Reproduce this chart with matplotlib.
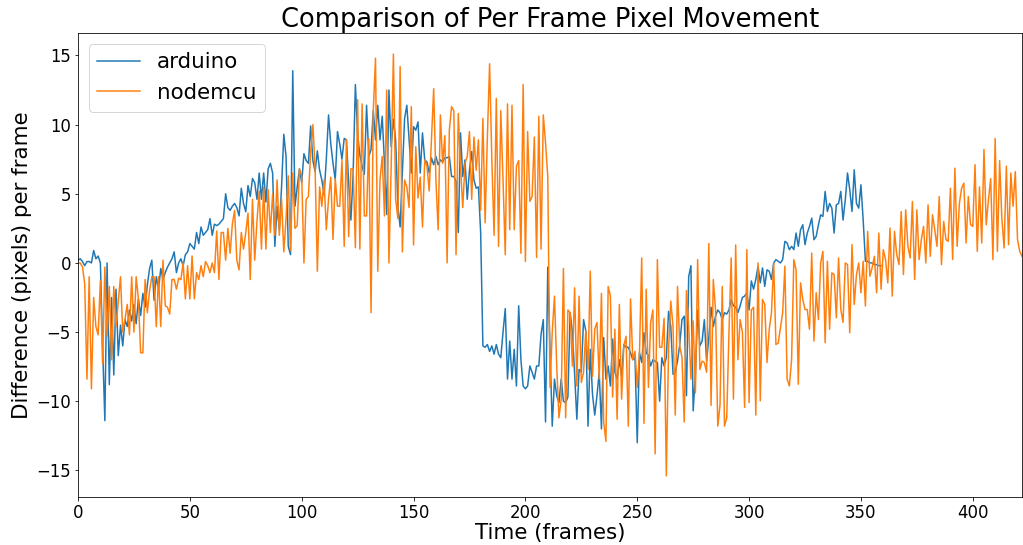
import matplotlib
matplotlib.use("Agg")
import matplotlib.pyplot as plt

# Per-frame pixel displacement for each board
arduino = [
    0.2, 0.3, 0.1, -0.2, 0.1, 0.1, 0.0, 0.9, 0.3, 0.5,
    0.0, -6.0, -11.4, 0.0, -8.8, -2.5, -8.1, -1.9, -6.7, -4.5,
    -6.0, -4.1, -4.6, -3.4, -4.2, -3.0, -4.4, -2.6, -3.8, -2.2,
    -3.2, -1.6, -0.4, 0.2, -2.7,
    -1.0, -1.9, -0.4, -1.2, -0.7, -0.3, 0.0, 0.3, 0.8, -0.7,
    0.0, 0.3, -0.2, 0.6, 0.8, 1.4, 1.2, 1.0, 2.2, 1.4,
    2.6, 2.0, 2.2, 2.4, 3.2, 2.0, 2.8, 2.7, 2.8, 3.0,
    3.2, 5.0, 4.0, 3.8, 4.1, 4.3, 4.0,
    3.4, 5.4, 4.3, 3.7, 5.6, 4.8, 6.1, 5.8, 4.6, 6.5,
    4.6, 6.5, 4.4, 6.8, 7.2, 6.5, 1.2, 4.1, 2.4, 5.5,
    9.3, 7.7, 1.2, 0.6, 13.9, 4.1, 5.5, 6.8, 5.8, 7.9,
    7.4, 7.2, 9.9, 7.4, 6.6, 8.1,
    6.7, 6.0, 4.9, 7.5, 10.7, 8.6, 7.2, 6.0, 9.5, 8.6,
    7.5, 9.0, 8.9, 5.8, 3.1, 6.5, 12.9, 9.3, 7.8, 7.0,
    6.4, 11.4, 7.7, 8.2, 11.0, 8.9, 11.4, 8.9, 10.6, 7.2,
    3.5, 12.5, 8.4, 10.4, 8.9,
    4.1, 2.6, 6.5, 10.45, 11.4, 9.0, 6.5, 9.85, 9.6, 10.2,
    6.5, 9.4, 7.45, 7.3, 6.5, 7.6, 7.1, 7.7, 7.1, 7.45,
    7.3, 7.6, 7.6, 7.7, 6.25, 6.25, 5.9, 2.2, 9.4, 6.25,
    7.45, 4.6, 6.7, 8.05, 6.0, 5.4, 5.5,
    2.2, -6.0, -6.1, -5.9, -6.4, -6.0, -6.6, -5.9, -6.6, -6.85,
    -5.0, -3.3, -8.4, -5.65, -8.4, -6.25, -8.9, -3.1, -7.0, -8.9,
    -9.1, -8.9, -7.45, -7.9, -8.4, -7.45, -7.45, -5.17, -4.1, -11.5,
    -0.3, -6.25, -11.8, -8.4,
    -9.6, -10.1, -8.4, -10.0, -10.1, -9.7, -3.6, -5.0, -8.0, -11.3,
    -7.7, -7.9, -4.1, -4.9, -11.8, -6.25, -9.5, -11.0, -9.6, -7.9,
    -12.0, -5.4, -8.4, -7.45, -8.9, -5.5, -7.9, -8.4, -7.0, -8.2,
    -5.9, -6.1, -6.1, -6.5, -7.0, -6.85,
    -13.0, -6.5, -7.2, -5.05, -6.5, -6.7, -7.45, -7.0, -7.1, -7.2,
    -10.0, -6.85, -7.45, -6.85, -3.5, -4.6, -8.05, -7.9, -7.1, -5.9,
    -4.1, -3.85, -9.6, -1.0, -0.2, -10.7, -8.0, -3.4, -6.0, -5.65,
    -4.1, -7.1, -5.4, -3.2, -4.6, -3.85, -3.4,
    -3.6, -4.1, -3.6, -3.7, -3.4, -2.64, -3.1, -3.2, -3.6, -3.1,
    -2.5, -2.4, -2.16, -3.4, -1.3, -1.9, -1.2, -0.24, -1.44, -0.36,
    -1.7, -0.5, -0.6, -1.2, 0.0, 0.24, 0.12, 0.0, 0.24, 1.56,
    1.44, 0.96, 1.2, 0.96, 2.16,
    1.2, 2.4, 2.76, 1.32, 2.16, 2.64, 3.24, 1.68, 1.92, 2.76,
    3.48, 3.36, 5.17, 3.72, 4.3, 3.96, 2.16, 4.2, 4.3, 5.17,
    3.1, 4.56, 6.5, 5.3, 3.72, 6.73, 4.3, 3.96, 5.65, 3.1,
    0.12, 0.12, 0.0, 0.0, -0.12, -0.12, -0.2, -0.2,
]

nodemcu = [
    0.0, 0.0, -0.3, -1.5, -8.4, -1.0, -9.1, -2.5, -4.6, -5.2,
    -1.3, -7.3, -0.3, -5.3, -1.7, -7.0, -1.7, -4.6, -2.8, -1.0,
    -5.0, -4.1, -3.0, -5.2, -1.0, -5.0, -1.0, -2.6, -6.5, -6.5,
    -1.2, -3.6, -2.0, -1.0, -1.0,
    -4.6, -1.0, -4.6, 0.2, -3.1, -3.2, -3.7, -1.2, -1.2, -1.9,
    -1.1, -1.2, 0.0, -2.6, -0.2, -2.6, 0.5, -2.6, -0.7, -1.2,
    -0.2, -1.0, 0.1, -0.2, -0.7, 0.0, -0.7, 2.3, -1.2, 2.2,
    2.2, 0.2, 2.5, 0.7, 2.8, 3.8, 0.2,
    -0.5, 2.2, 1.0, 2.2, 3.6, -1.2, 4.6, 0.2, 3.0, 5.2,
    1.0, 5.5, 1.0, 5.3, 2.2, 5.0, 2.0, 6.0, 2.0, 4.6,
    0.8, 3.2, 6.3, 0.9, 6.5, 2.5, 2.7, 6.8, 6.3, 0.0,
    4.6, 4.8, 8.0, 10.0, 6.8, -0.6,
    5.5, 4.1, 6.0, 2.4, 4.6, 6.2, 1.7, 6.1, 4.1, 4.1,
    7.4, 1.2, 8.9, 1.9, 6.8, 6.8, 1.1, 11.8, 1.0, 11.5,
    3.4, 3.4, 9.0, -3.6, 11.0, 14.8, -0.6, 6.0, 7.7, 3.4,
    12.5, 0.0, 7.0, 15.1, 4.6,
    3.2, 14.2, 0.8, 6.0, 5.5, 4.0, 11.3, 1.3, 8.4, 4.7,
    6.2, 2.6, 7.45, 7.0, 5.2, 8.9, 12.6, 6.0, 2.4, 10.7,
    7.2, 9.2, 0.0, 9.6, 11.3, 11.0, 0.6, 10.8, 7.0, 4.0,
    7.2, 7.7, 9.5, 4.6, 9.1, 6.7, 8.9,
    3.8, 10.45, 2.9, 9.1, 14.4, 7.45, 2.0, 11.9, 1.2, 11.0,
    6.0, 0.6, 11.5, 2.4, 11.4, 2.4, 7.0, 7.4, 0.7, 12.9,
    0.1, 9.5, 4.45, 4.8, 9.1, 0.4, 10.6, 1.0, 10.7, 8.7,
    6.25, -9.0, -5.0, -2.4,
    -7.45, -11.2, -9.85, -0.4, -11.2, -3.4, -3.6, -7.45, -1.8, -8.9,
    -2.4, -8.65, -7.9, -4.9, -7.7, -0.6, -8.2, -4.8, -4.3, -8.4,
    -2.2, -11.5, -12.9, -1.7, -2.4, -9.7, -4.8, -11.3, -3.0, -9.85,
    -6.0, -5.3, -11.8, -2.6, -7.0, -6.4, -9.0,
    -6.5, 0.36, -11.6, -1.9, -9.0, -4.3, -3.4, -13.8, 0.24, -6.1,
    -6.1, -4.0, -15.4, -6.25, -2.76, -4.6, -11.0, -1.7, -6.0, -6.85,
    -11.5, -2.0, -4.6, -8.4, -4.2, -9.4, 0.24, -7.7, -7.1, -7.2,
    -7.9, 1.4, -10.3, -1.2, -3.4, -11.8,
    -10.3, -1.7, -11.8, -11.2, -5.05, 0.36, -9.85, 1.3, -7.0, -4.1,
    -5.0, -10.45, 0.96, -10.1, -3.4, -3.2, -11.0, 0.0, -9.97, -2.64,
    -3.0, -7.2, -4.8, -3.6, 0.0, -5.9, -5.8, -4.7, -3.6, -0.24,
    -8.4, -8.9, -7.0, 0.24, -0.5,
    -8.77, -1.44, -2.64, -3.37, -3.37, -4.8, 0.72, -5.65, -2.16, -4.1,
    0.0, 0.84, -5.77, 0.12, -4.8, -0.72, -0.84, -3.97, 0.36, -3.37,
    -4.3, 0.0, -0.12, -5.05, 1.32, -3.0, -0.84, 0.0, -2.16, 0.12,
    -3.12, 2.28, -0.96, -0.36, 0.48,
    -2.16, 2.16, -1.9, 0.96, 0.24, -1.44, 2.52, -2.4, 2.28, 0.6,
    -0.12, 3.72, -0.84, 3.84, 1.2, 0.36, 4.44, -1.2, 3.84, 0.24,
    1.68, 2.64, 0.0, 4.2, 0.48, 3.48, 2.4, 1.2, 4.8, -0.12,
    3.0, 1.68, 1.56, 5.4, 0.24, 6.85, 1.2, 4.3,
    5.4, 5.77, 1.44, 4.8, 2.76, 2.64, 7.1, 0.84, 5.5, 1.44,
    8.2, 2.76, 4.56, 6.1, 0.24, 9.0, 0.84, 7.4, 3.2, 1.08,
    7.0, 1.32, 6.5, 4.1, 6.6, 1.68, 0.84, 0.48,
]

DPI = 72
fig = plt.figure(figsize=(1023 / DPI, 545 / DPI), dpi=DPI)
ax = fig.add_axes([78 / 1023, 1 - 497 / 545, (1022 - 78) / 1023, (497 - 33) / 545])

ax.plot(range(len(arduino)), arduino, color="#1f77b4", linewidth=1.5, label="arduino")
ax.plot(range(len(nodemcu)), nodemcu, color="#ff7f0e", linewidth=1.5, label="nodemcu")

ax.set_xlim(0, len(nodemcu) - 1)
ax.set_title("Comparison of Per Frame Pixel Movement", fontsize=25.8)
ax.set_xlabel("Time (frames)", fontsize=21.4, labelpad=1)
ax.set_ylabel("Difference (pixels) per frame", fontsize=21.4)
ax.tick_params(axis="both", labelsize=16.5)
ax.legend(loc="upper left", fontsize=21.4)

fig.savefig("out.png", dpi=DPI)
